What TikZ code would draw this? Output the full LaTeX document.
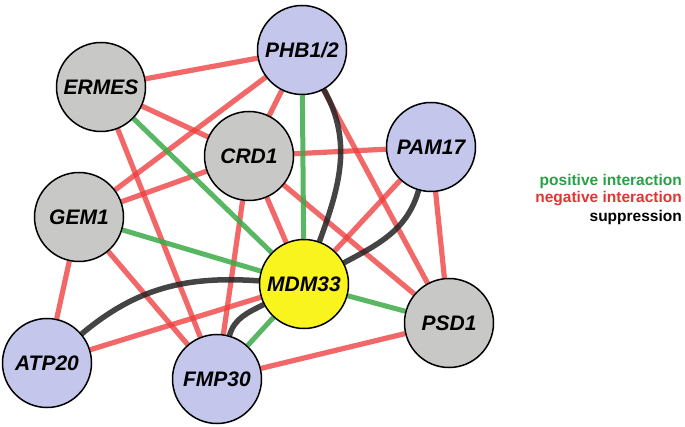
\documentclass[tikz,border=0pt]{standalone}
\usepackage{fontspec}
\setmainfont{Liberation Sans}
\pgfdeclarelayer{bg}
\pgfsetlayers{bg,main}
\definecolor{nodegray}{RGB}{200,201,199}
\definecolor{nodeblue}{RGB}{196,198,236}
\definecolor{nodeyellow}{RGB}{250,244,30}
\definecolor{edgered}{RGB}{238,62,62}
\definecolor{edgegreen}{RGB}{60,170,72}
\definecolor{edgeblack}{RGB}{35,35,35}
\definecolor{legendgreen}{RGB}{40,160,70}
\definecolor{legendred}{RGB}{230,50,50}
\begin{document}
\begin{tikzpicture}[x=1pt,y=-1pt,
  gene/.style={circle,draw=black,line width=1.5pt,minimum size=89pt,inner sep=0pt,
    font=\fontsize{21}{24}\selectfont\bfseries\itshape},
  grayn/.style={gene,fill=nodegray},
  bluen/.style={gene,fill=nodeblue},
  yelln/.style={gene,fill=nodeyellow},
  negedge/.style={draw=edgered,line width=5.2pt,opacity=0.78},
  posedge/.style={draw=edgegreen,line width=5pt,opacity=0.85},
  supedge/.style={draw=edgeblack,line width=5.5pt,opacity=0.85},
  legend/.style={anchor=east,inner sep=0pt,font=\fontsize{15.5}{18}\selectfont\bfseries}
]
\useasboundingbox (0,0) rectangle (685,427);

% nodes
\node[bluen] (PHB) at (302,50) {PHB1/2};
\node[grayn] (ERMES) at (101,87) {ERMES};
\node[grayn] (CRD) at (249,156) {CRD1};
\node[bluen] (PAM) at (431,147) {PAM17};
\node[grayn] (GEM) at (79,217) {GEM1};
\node[yelln] (MDM) at (304,284) {MDM33};
\node[bluen] (ATP) at (47,363) {ATP20};
\node[bluen] (FMP) at (217,379) {FMP30};
\node[grayn] (PSD) at (449,323) {PSD1};

% legend
\node[legend,text=legendgreen] (lpos) at (682,181) {positive interaction};
\node[legend,text=legendred] (lneg) at (682,199) {negative interaction};
\node[legend,text=black] (lsup) at (682,217) {suppression};

\begin{pgfonlayer}{bg}
% negative interactions
\draw[negedge] (ERMES) -- (PHB);
\draw[negedge] (ERMES) -- (CRD);
\draw[negedge] (ERMES) -- (FMP);
\draw[negedge] (PHB) -- (GEM);
\draw[negedge] (CRD) -- (GEM);
\draw[negedge] (PHB) -- (CRD);
\draw[negedge] (CRD) -- (PAM);
\draw[negedge] (PHB) -- (PSD);
\draw[negedge] (PAM) -- (MDM);
\draw[negedge] (PAM) -- (PSD);
\draw[negedge] (GEM) -- (ATP);
\draw[negedge] (GEM) -- (FMP);
\draw[negedge] (CRD) -- (FMP);
\draw[negedge] (CRD) -- (MDM);
\draw[negedge] (CRD) -- (PSD);
\draw[negedge] (ATP) -- (MDM);
\draw[negedge] (FMP) -- (PSD);
% positive interactions
\draw[posedge] (ERMES) -- (MDM);
\draw[posedge] (PHB) -- (MDM);
\draw[posedge] (GEM) -- (MDM);
\draw[posedge] (MDM) -- (PSD);
\draw[posedge] (MDM) -- (FMP);
% suppression
\draw[supedge] (PHB.-61) to[out=-61,in=70] (MDM.70);
\draw[supedge] (PAM.254) to[out=254,in=28] (MDM.28);
\draw[supedge] (ATP.40) to[out=40,in=176] (MDM.176);
\draw[supedge] (FMP.74) to[out=74,in=207] (MDM.207);
\end{pgfonlayer}
\end{tikzpicture}
\end{document}
